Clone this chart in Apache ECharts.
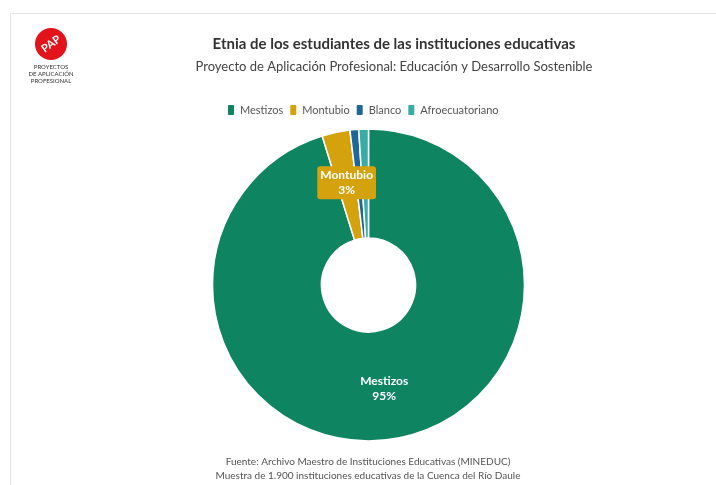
<!DOCTYPE html>
<html>
<head>
<meta charset="utf-8">
<script src="https://cdn.jsdelivr.net/npm/echarts@6/dist/echarts.min.js"></script>
<style>html,body{margin:0;padding:0;background:#fff;}#c{width:716px;height:485px;}</style>
</head>
<body>
<div id="c"></div>
<script>
const categories = ['Mestizos', 'Montubio', 'Blanco', 'Afroecuatoriano'];
const values = [95.2, 2.9, 0.9, 1.0];
const colors = ['#0e8560', '#d4a20c', '#1f6796', '#3aaba5'];
const titleText = 'Etnia de los estudiantes de las instituciones educativas';
const subtitleText = 'Proyecto de Aplicación Profesional: Educación y Desarrollo Sostenible';
const footerLines = ['Fuente: Archivo Maestro de Instituciones Educativas (MINEDUC)', 'Muestra de 1.900 instituciones educativas de la Cuenca del Río Daule'];
const logoLines = ['PROYECTOS', 'DE APLICACIÓN', 'PROFESIONAL'];

const FONT = 'Lato, "Noto Sans", sans-serif';
const chart = echarts.init(document.getElementById('c'), null, {renderer: 'canvas'});
const total = values.reduce((a, b) => a + b, 0);

const data = categories.map((name, i) => {
  const pct = values[i] / total * 100;
  const item = {name: name, value: values[i], itemStyle: {color: colors[i]}};
  if (pct < 2) item.label = {show: false};
  if (name === 'Montubio') {
    item.label = {show: true, backgroundColor: colors[i], padding: [2, 3, 1, 3], borderRadius: 3};
  }
  return item;
});

chart.setOption({
  backgroundColor: '#ffffff',
  animation: false,
  legend: {
    data: categories,
    top: 98,
    left: 221,
    icon: 'roundRect',
    itemWidth: 8,
    itemHeight: 12,
    itemGap: 5,
    textStyle: {fontFamily: FONT, fontSize: 11, color: '#555'}
  },
  graphic: [
    {type: 'polyline', shape: {points: [[10.5, 490], [10.5, 13.5], [720, 13.5]]}, style: {stroke: '#e4e4e4', lineWidth: 1, fill: null}, silent: true},
    {type: 'text', x: 394, y: 44, style: {text: titleText, fontFamily: FONT, fontSize: 15, fontWeight: 'bold', fill: '#333', align: 'center', verticalAlign: 'middle'}},
    {type: 'text', x: 394, y: 67, style: {text: subtitleText, fontFamily: FONT, fontSize: 13, fill: '#444', align: 'center', verticalAlign: 'middle'}},
    {type: 'text', x: 368, y: 462, style: {text: footerLines[0], fontFamily: FONT, fontSize: 10, fill: '#555', align: 'center', verticalAlign: 'middle'}},
    {type: 'text', x: 368, y: 476, style: {text: footerLines[1], fontFamily: FONT, fontSize: 10, fill: '#555', align: 'center', verticalAlign: 'middle'}},
    {type: 'circle', shape: {cx: 51, cy: 44, r: 16}, style: {fill: '#e3131b'}},
    {type: 'text', x: 51, y: 44, rotation: Math.PI / 5, style: {text: 'PAP', fontFamily: FONT, fontSize: 11, fontWeight: 'bold', fill: '#fff', align: 'center', verticalAlign: 'middle'}},
    {type: 'text', x: 51, y: 67, style: {text: logoLines[0], fontFamily: FONT, fontSize: 6, fill: '#333', align: 'center', verticalAlign: 'middle'}},
    {type: 'text', x: 51, y: 74, style: {text: logoLines[1], fontFamily: FONT, fontSize: 6, fill: '#333', align: 'center', verticalAlign: 'middle'}},
    {type: 'text', x: 51, y: 81, style: {text: logoLines[2], fontFamily: FONT, fontSize: 6, fill: '#333', align: 'center', verticalAlign: 'middle'}}
  ],
  series: [{
    type: 'pie',
    center: [368.5, 285],
    radius: [47, 156],
    startAngle: 90,
    clockwise: true,
    avoidLabelOverlap: false,
    itemStyle: {borderColor: '#ffffff', borderWidth: 1.5},
    label: {
      show: true,
      position: 'inside',
      fontFamily: FONT,
      fontSize: 12,
      fontWeight: 'bold',
      color: '#fff',
      lineHeight: 15,
      formatter: p => p.name + '\n' + Math.round(p.percent) + '%'
    },
    labelLine: {show: false},
    emphasis: {disabled: true},
    data: data
  }]
});
</script>
</body>
</html>
